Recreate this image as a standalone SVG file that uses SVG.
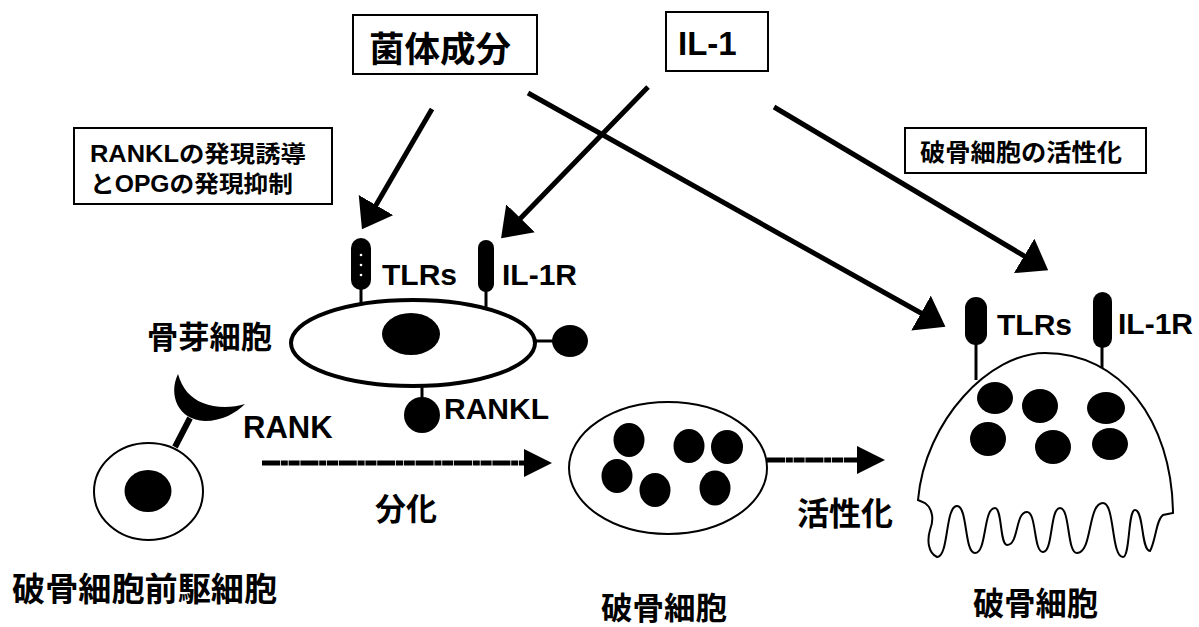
<svg xmlns="http://www.w3.org/2000/svg" width="1199" height="627" viewBox="0 0 1199 627">
  <defs>
    <style>
      .box { fill: #fff; stroke: #000; stroke-width: 2; }
      .jp { font-family: "Liberation Sans", "Noto Sans CJK JP", sans-serif; font-weight: bold; fill: #000; }
      .lat { font-family: "Liberation Sans", Arial, sans-serif; font-weight: bold; fill: #000; }
      .link { stroke: #000; stroke-width: 5; fill: none; }
      .flow { stroke: #000; stroke-width: 5; fill: none; stroke-dasharray: 18 0.8 7 0.8 11 0.8; }
      .cell { fill: #fff; stroke: #000; stroke-width: 2; }
      .nuc { fill: #000; }
      .stem { stroke: #000; stroke-width: 3; }
    </style>
    <marker id="head" markerUnits="userSpaceOnUse" markerWidth="28" markerHeight="40" viewBox="0 0 28 40" refX="8" refY="20" orient="auto">
      <path d="M0,0 L28,20 L0,40 Z" fill="#000"/>
    </marker>
    <marker id="headSmall" markerUnits="userSpaceOnUse" markerWidth="28" markerHeight="28" viewBox="0 0 28 28" refX="8" refY="14" orient="auto">
      <path d="M0,0 L28,14 L0,28 Z" fill="#000"/>
    </marker>
  </defs>

  <rect width="1199" height="627" fill="#fff"/>

  <!-- connectors -->
  <g id="connectors">
    <line class="link" x1="432" y1="109" x2="372" y2="212" marker-end="url(#head)"/>
    <line class="link" x1="648" y1="87" x2="515" y2="224" marker-end="url(#head)"/>
    <line class="link" x1="528" y1="93" x2="928" y2="317" marker-end="url(#head)"/>
    <line class="link" x1="774" y1="107" x2="1031" y2="260" marker-end="url(#head)"/>
    <line class="flow" x1="262" y1="463" x2="532" y2="463" marker-end="url(#headSmall)"/>
    <line class="flow" x1="767" y1="460" x2="865" y2="460" marker-end="url(#headSmall)"/>
  </g>

  <!-- bacterial components -->
  <g id="bacteria">
    <rect class="box" x="353" y="15" width="184" height="59"/>
    <text class="jp" x="369" y="62" font-size="35" textLength="142" lengthAdjust="spacingAndGlyphs">菌体成分</text>
  </g>

  <!-- IL-1 -->
  <g id="il1">
    <rect class="box" x="666" y="12" width="102" height="59"/>
    <text class="lat" x="678" y="55" font-size="33">IL-1</text>
  </g>

  <!-- note: RANKL / OPG -->
  <g id="note-rankl">
    <rect class="box" x="74" y="128" width="258" height="76"/>
    <text class="jp" x="90" y="162" font-size="23" textLength="216" lengthAdjust="spacingAndGlyphs">RANKLの発現誘導</text>
    <text class="jp" x="90" y="192" font-size="23" textLength="203" lengthAdjust="spacingAndGlyphs">とOPGの発現抑制</text>
  </g>

  <!-- note: osteoclast activation -->
  <g id="note-activation">
    <rect class="box" x="905" y="128" width="241" height="45"/>
    <text class="jp" x="920" y="161" font-size="24" textLength="202" lengthAdjust="spacingAndGlyphs">破骨細胞の活性化</text>
  </g>

  <!-- osteoblast -->
  <g id="osteoblast">
    <line class="stem" x1="361" y1="286" x2="361" y2="304"/>
    <line class="stem" x1="486" y1="288" x2="486" y2="309"/>
    <line class="stem" x1="535" y1="341" x2="556" y2="341"/>
    <line class="stem" x1="422" y1="385" x2="422" y2="400"/>
    <ellipse cx="413" cy="343" rx="122" ry="43" fill="#fff" stroke="#000" stroke-width="4"/>
    <ellipse class="nuc" cx="411" cy="334" rx="29" ry="21"/>
    <rect x="351" y="238" width="20" height="52" rx="10" fill="#000"/>
    <circle cx="361" cy="255" r="1.3" fill="#fff"/>
    <circle cx="361" cy="265" r="1.3" fill="#fff"/>
    <circle cx="361" cy="275" r="1.3" fill="#fff"/>
    <rect x="478" y="240" width="16" height="52" rx="8" fill="#000"/>
    <ellipse class="nuc" cx="570" cy="341" rx="18" ry="16"/>
    <ellipse class="nuc" cx="422" cy="415" rx="18" ry="18"/>
    <text class="lat" x="382" y="285" font-size="30">TLRs</text>
    <text class="lat" x="502" y="285" font-size="30">IL-1R</text>
    <text class="lat" x="444" y="419" font-size="30">RANKL</text>
    <text class="jp" x="147" y="348" font-size="31" textLength="125" lengthAdjust="spacingAndGlyphs">骨芽細胞</text>
  </g>

  <!-- osteoclast precursor -->
  <g id="precursor">
    <line x1="175" y1="447" x2="190" y2="418" stroke="#000" stroke-width="6"/>
    <path d="M178,374 C168,395 178,420 205,421 C222,421 236,413 245,404 C232,408 215,408 203,403 C190,398 182,388 178,374 Z" fill="#000"/>
    <ellipse class="cell" cx="148.5" cy="491.5" rx="54.5" ry="48.5"/>
    <ellipse class="nuc" cx="148" cy="491" rx="23.5" ry="21"/>
    <text class="lat" x="243" y="438" font-size="31">RANK</text>
    <text class="jp" x="375" y="520" font-size="31" textLength="62" lengthAdjust="spacingAndGlyphs">分化</text>
    <text class="jp" x="12" y="601" font-size="33" textLength="265" lengthAdjust="spacingAndGlyphs">破骨細胞前駆細胞</text>
  </g>

  <!-- immature osteoclast -->
  <g id="osteoclast-immature">
    <ellipse class="cell" cx="668" cy="468" rx="99" ry="66"/>
    <ellipse class="nuc" cx="629" cy="440" rx="15.5" ry="17"/>
    <ellipse class="nuc" cx="689" cy="446" rx="15.5" ry="17"/>
    <ellipse class="nuc" cx="727" cy="447" rx="16" ry="17"/>
    <ellipse class="nuc" cx="617" cy="476" rx="15.5" ry="17"/>
    <ellipse class="nuc" cx="655" cy="490" rx="15.5" ry="17"/>
    <ellipse class="nuc" cx="715" cy="488" rx="15.5" ry="17.5"/>
    <text class="jp" x="797" y="525" font-size="32" textLength="96" lengthAdjust="spacingAndGlyphs">活性化</text>
    <text class="jp" x="601" y="619" font-size="31" textLength="126" lengthAdjust="spacingAndGlyphs">破骨細胞</text>
  </g>

  <!-- activated osteoclast with ruffled border -->
  <g id="osteoclast-active">
    <line class="stem" x1="976" y1="340" x2="976" y2="380"/>
    <line class="stem" x1="1102" y1="345" x2="1102" y2="374"/>
    <path class="cell" d="M918,500 L925,503 C933,509 934,520 930,530 C927,540 928,553 937,557
      C949,557 945,506 957,506 C967.8,506 964.2,553 975,553 C987,553 983,508 995,508
      C1002.2,508 999.8,545 1007,545 C1019,545 1015,512 1027,512 C1036.6,512 1033.4,552 1043,552
      C1053.2,552 1049.8,508 1060,508 C1070.2,508 1066.8,553 1077,553 C1092.6,553 1087.4,503 1103,503
      C1115,503 1111,557 1123,557 C1130.2,557 1127.8,510 1135,510 C1144,510 1141,551 1150,551
      C1156,540 1156,520 1163,515 L1173,513
      C1172,420 1120,353 1045,353 C990,353 925,420 918,500 Z"/>
    <rect x="965" y="297" width="22" height="48" rx="11" fill="#000"/>
    <rect x="1093" y="292" width="19" height="56" rx="9.5" fill="#000"/>
    <ellipse class="nuc" cx="995" cy="398" rx="18" ry="16"/>
    <ellipse class="nuc" cx="1040" cy="406" rx="18" ry="17"/>
    <ellipse class="nuc" cx="1106" cy="408" rx="19" ry="16"/>
    <ellipse class="nuc" cx="988" cy="439" rx="18" ry="17"/>
    <ellipse class="nuc" cx="1053" cy="447" rx="18" ry="17"/>
    <ellipse class="nuc" cx="1110" cy="444" rx="18" ry="16"/>
    <text class="lat" x="997" y="335" font-size="30">TLRs</text>
    <text class="lat" x="1118" y="334" font-size="30">IL-1R</text>
    <text class="jp" x="973" y="615" font-size="32" textLength="125" lengthAdjust="spacingAndGlyphs">破骨細胞</text>
  </g>
</svg>
